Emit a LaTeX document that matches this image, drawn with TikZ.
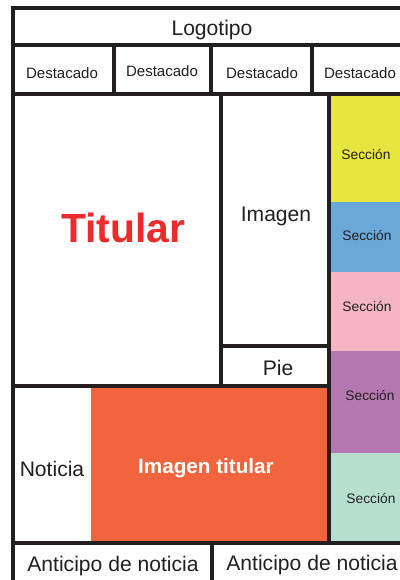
\documentclass[tikz,border=0pt]{standalone}
\usepackage{fontspec}
\setmainfont{Liberation Sans}
\usepackage{tikz}

\definecolor{ink}{HTML}{231F20}
\definecolor{amarillo}{HTML}{E6E63E}
\definecolor{azul}{HTML}{6AA8DA}
\definecolor{rosa}{HTML}{F6B5C2}
\definecolor{morado}{HTML}{B577B0}
\definecolor{menta}{HTML}{B6DFD0}
\definecolor{naranja}{HTML}{F1643E}
\definecolor{rojo}{HTML}{EE2A2A}

\tikzset{
	big/.style={text=ink, font=\fontsize{15}{18}\selectfont},
	small/.style={text=ink, font=\fontsize{10.7}{13}\selectfont},
	tiny/.style={text=ink, font=\fontsize{9.8}{12}\selectfont}
}

\begin{document}
\begin{tikzpicture}[x=0.025cm, y=-0.025cm] % maqueta
		\useasboundingbox (0,0) rectangle (400,580);
		\begin{scope}
			\clip (0,0) rectangle (400,580);
			\fill [white] (0,0) rectangle (400,580);

			\fill [amarillo] (329,94) rectangle (410,202);
			\fill [azul] (329,202) rectangle (410,272);
			\fill [rosa] (329,272) rectangle (410,351);
			\fill [morado] (329,351) rectangle (410,453);
			\fill [menta] (329,453) rectangle (410,543);
			\fill [naranja] (91,386) rectangle (329,543);

			\draw [ink, line width=2.3pt] (13,600) -- (13,8) -- (410,8);
			\draw [ink, line width=2.3pt] (13,45) -- (410,45);
			\draw [ink, line width=2.3pt] (13,94) -- (410,94);
			\draw [ink, line width=2.3pt] (13,386) -- (329,386);
			\draw [ink, line width=2.3pt] (13,543) -- (410,543);
			\draw [ink, line width=2.3pt] (221,346) -- (329,346);

			\draw [ink, line width=2.3pt] (114,45) -- (114,94);
			\draw [ink, line width=2.3pt] (211,45) -- (211,94);
			\draw [ink, line width=2.3pt] (312,45) -- (312,94);
			\draw [ink, line width=2.3pt] (221,94) -- (221,386);
			\draw [ink, line width=2.3pt] (329,94) -- (329,543);
			\draw [ink, line width=2.3pt] (212,543) -- (212,600);

			\node [big] (logo) at (212,30) {Logotipo};
			\node [small] (dest1) at (62,73) {Destacado};
			\node [small] (dest2) at (162,71) {Destacado};
			\node [small] (dest3) at (262,73) {Destacado};
			\node [small] (dest4) at (360,73) {Destacado};

			\node [text=rojo, font=\fontsize{29}{34}\selectfont\bfseries] (titular) at (123,228) {Titular};
			\node [big] (imagen) at (276,216) {Imagen};
			\node [big] (pie) at (278,368) {Pie};

			\node [tiny] (secc1) at (366,154) {Sección};
			\node [tiny] (secc2) at (367,235) {Sección};
			\node [tiny] (secc3) at (367,306) {Sección};
			\node [tiny] (secc4) at (370,395) {Sección};
			\node [tiny] (secc5) at (371,498) {Sección};

			\node [big] (noticia) at (52,469) {Noticia};
			\node [text=white, font=\fontsize{14.7}{18}\selectfont\bfseries] (imgtit) at (206,468) {Imagen titular};

			\node [big] (antic1) at (113,566) {Anticipo de noticia};
			\node [big] (antic2) at (312,565) {Anticipo de noticia};
		\end{scope}
		\end{tikzpicture}
\end{document}
